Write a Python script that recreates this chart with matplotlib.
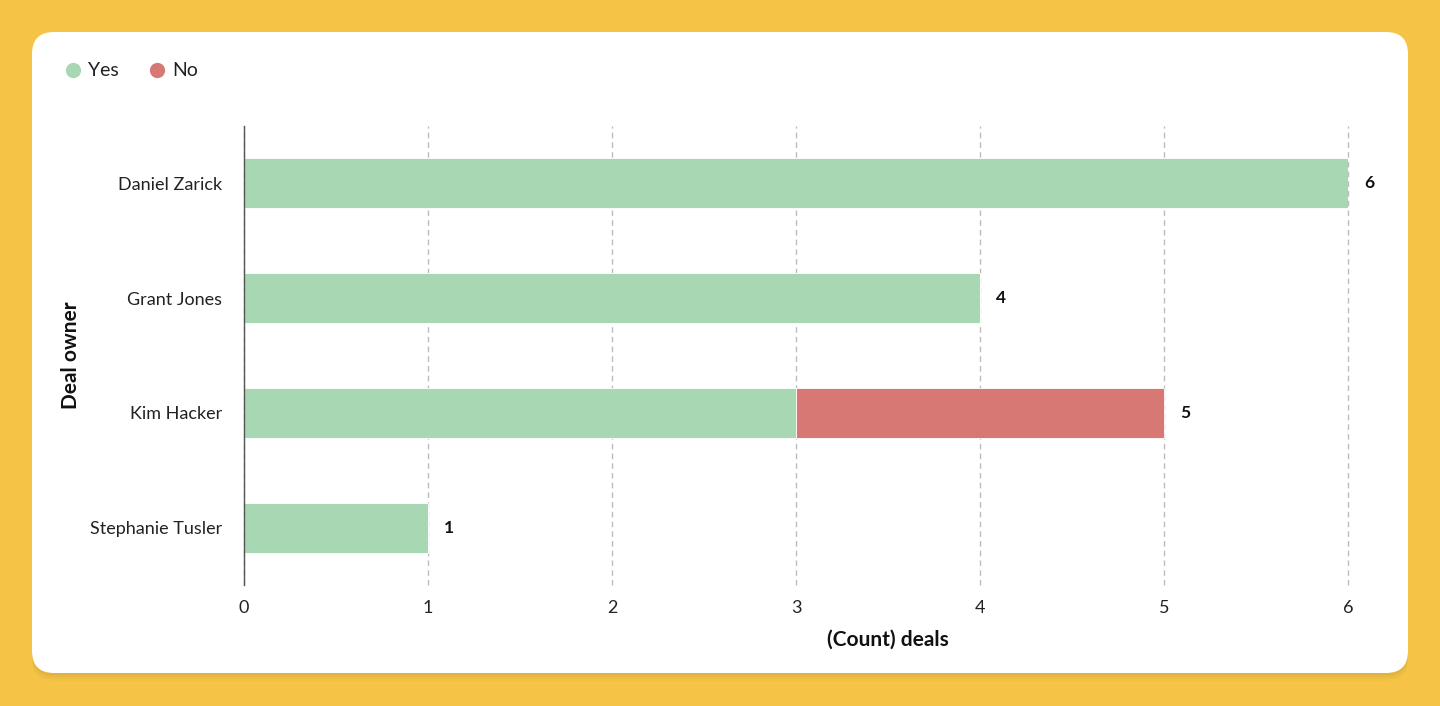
import matplotlib
matplotlib.use("Agg")
import matplotlib.pyplot as plt
from matplotlib.patches import FancyBboxPatch
from matplotlib.lines import Line2D

owners = ["Daniel Zarick", "Grant Jones", "Kim Hacker", "Stephanie Tusler"]
yes_vals = [6, 4, 3, 1]
no_vals = [0, 0, 2, 0]
x_ticks = [0, 1, 2, 3, 4, 5, 6]
series_names = ["Yes", "No"]

GREEN = "#A8D8B3"
RED = "#D77875"
BG = "#F5C446"
TEXT = "#222222"

plt.rcParams['font.family'] = ['Lato', 'DejaVu Sans']

W, H = 1440, 706
fig = plt.figure(figsize=(W / 100, H / 100), dpi=100)
fig.patch.set_facecolor(BG)

# background axes in pixel coordinates
bg = fig.add_axes([0, 0, 1, 1])
bg.set_xlim(0, W)
bg.set_ylim(H, 0)
bg.axis("off")
for i, a in enumerate([0.05, 0.05, 0.04, 0.03]):
    off = 2 + i * 2
    sh = FancyBboxPatch((32, 32 + off), 1376, 641, boxstyle="round,pad=0,rounding_size=22",
                        facecolor="#8a6a10", edgecolor="none", alpha=a, zorder=0)
    bg.add_patch(sh)
card = FancyBboxPatch((32, 32), 1376, 641, boxstyle="round,pad=0,rounding_size=22",
                      facecolor="white", edgecolor="none", zorder=1)
bg.add_patch(card)

# legend
handles = [Line2D([0], [0], marker='o', linestyle='none', markersize=11,
                  markerfacecolor=c, markeredgecolor='none') for c in (GREEN, RED)]
leg = fig.legend(handles, series_names, loc='center left',
                 bbox_to_anchor=(46 / W, 1 - 71 / H), frameon=False, ncol=2,
                 fontsize=14, handletextpad=0.25, columnspacing=1.5, handlelength=1.0,
                 labelcolor=TEXT)

ax = fig.add_axes([244 / W, 1 - 585 / H, 1104 / W, 459 / H])
ax.set_facecolor("none")
ypos = list(range(len(owners)))
bar_h = 50 / 115
ax.barh(ypos, yes_vals, height=bar_h, color=GREEN, edgecolor="white", linewidth=0.6, zorder=3,
        label=series_names[0])
ax.barh(ypos, no_vals, left=yes_vals, height=bar_h, color=RED, edgecolor="white", linewidth=0.6,
        zorder=3, label=series_names[1])

totals = [a + b for a, b in zip(yes_vals, no_vals)]
for y, t in zip(ypos, totals):
    ax.annotate(str(t), (t, y), xytext=(11.5, 0), textcoords="offset points",
                ha="left", va="center", fontsize=12.5, fontweight="bold", color="#111111",
                annotation_clip=False)

ax.set_ylim(len(owners) - 0.5, -0.5)
ax.set_xlim(0, 6)
ax.set_yticks(ypos)
ax.set_yticklabels(owners)
ax.set_xticks(x_ticks)
ax.set_xticklabels([str(v) for v in x_ticks])
ax.tick_params(axis='both', length=0, labelsize=13, colors=TEXT)
ax.tick_params(axis='y', pad=16)
ax.tick_params(axis='x', pad=11)

ax.grid(axis='x', linestyle=(0, (4, 3)), color="#BDBDBD", linewidth=1, zorder=0)
for gl in ax.get_xgridlines():
    gl.set_clip_on(False)
ax.set_axisbelow(True)
for s in ["top", "right", "bottom"]:
    ax.spines[s].set_visible(False)
ax.spines["left"].set_color("#555555")
ax.spines["left"].set_linewidth(1)
ax.spines["left"].set_zorder(4)

ax.set_xlabel("(Count) deals", fontsize=15, fontweight="bold", color="#111111")
ax.xaxis.set_label_coords((888 - 244) / 1104, (585 - 630) / 459)
ax.set_ylabel("Deal owner", fontsize=15, fontweight="bold", color="#111111")
ax.yaxis.set_label_coords((81 - 244) / 1104, 0.5)

fig.savefig("out.png", dpi=100, facecolor=BG)
